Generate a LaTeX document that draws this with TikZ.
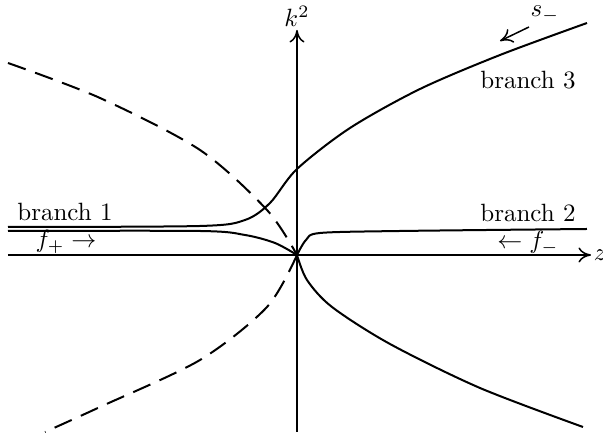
\documentclass[tikz,border=0pt]{standalone}
\usetikzlibrary{arrows.meta,calc,positioning}
\tikzset{axis/.style={line width=0.6pt, -{To[length=5pt,width=6pt]}},
  branch/.style={line width=0.8pt, smooth},
  ghost/.style={line width=0.8pt, smooth, dash pattern=on 7.5pt off 4pt},
  lbl/.style={inner sep=1pt}}

\begin{document}
\begin{tikzpicture}[x=0.4pt, y=-0.4pt]
  \useasboundingbox (0,0) rectangle (603,438);
  % axes
  \coordinate (O) at (297,255);
  \coordinate (zl) at (8,255);
  \coordinate (zr) at (591,255);
  \coordinate (kb) at (297,432);
  \coordinate (kt) at (297,30);
  \draw[axis] (zl) -- (zr);
  \draw[axis] (kb) -- (kt);
  \node[lbl, anchor=west] (z) at (zr) {$z$};
  \node[lbl, anchor=south] (k) at (kt) {$k^2$};
  % branch 1 -> branch 3 (upper curve)
  \draw[branch] plot coordinates {(8,227) (200,226) (245,220) (270,203)
    (297,169) (350,128) (420,89) (500,55) (587,23)};
  % branch 1 down to the origin
  \draw[branch] plot coordinates {(8,231) (200,231) (245,235) (275,243) (297,255)};
  % branch 2
  \draw[branch] plot coordinates {(297,255) (306,240) (320,233) (400,231) (587,229)};
  % lower curve
  \draw[branch] plot coordinates {(297,255) (307,280) (332,307) (390,344)
    (480,388) (583,427)};
  % dashed curves
  \draw[ghost] plot coordinates {(8,63) (100,98) (200,150) (267,210) (297,255)};
  \draw[ghost] plot coordinates {(297,255) (267,307) (200,360) (100,407) (45,432)};
  % labels
  \node[lbl] (b1) at (65,212) {branch 1};
  \node[lbl] (fp) at (66,242) {$f_+\rightarrow$};
  \node[lbl] (b2) at (528,213) {branch 2};
  \node[lbl] (fm) at (528,243) {$\leftarrow f_-$};
  \node[lbl] (b3) at (528,80) {branch 3};
  \node[lbl] (sm) at (545,14) {$s_-$};
  \coordinate (sa) at (529,27);
  \coordinate (sb) at (500,41);
  \draw[line width=0.6pt, -{To[length=5pt,width=6pt]}] (sa) -- (sb);
\end{tikzpicture}
\end{document}
